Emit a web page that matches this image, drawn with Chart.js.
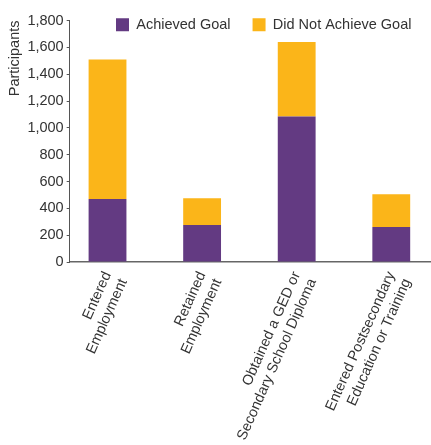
<!DOCTYPE html>
<html>
<head>
<meta charset="utf-8">
<script src="https://cdn.jsdelivr.net/npm/chart.js@4.4.1/dist/chart.umd.min.js"></script>
<style>
html, body { margin: 0; padding: 0; background: #fff; }
#wrap { width: 431px; height: 445px; }
</style>
</head>
<body>
<div id="wrap"><canvas id="chart"></canvas></div>
<script>
// data
const categories = [
    ['Entered', 'Employment'],
    ['Retained', 'Employment'],
    ['Obtained a GED or', 'Secondary School Diploma'],
    ['Entered Postsecondary', 'Education or Training']
]
const achieved = [470, 275, 1085, 260]
const notAchieved = [1040, 200, 555, 245]
const yTickValues = [0, 200, 400, 600, 800, 1000, 1200, 1400, 1600, 1800]
const seriesNames = ['Achieved Goal', 'Did Not Achieve Goal']

const purple = '#633A82'
const gold = '#FBB519'

Chart.defaults.font.family = '"Liberation Sans", Arial, sans-serif'
Chart.defaults.font.size = 14.5
Chart.defaults.color = '#333'

// legend sits inside the plot area in the original, move it there after layout
const legendPlace = {
    id: 'legendPlace',
    afterLayout(chart) {
        const l = chart.legend
        const pad = l.options.labels.padding
        l.left = 116 - pad
        l.right = 560
        l.top = 17.5 - pad
        l.bottom = 40
    }
}

const toPoints = vals => vals.map((v, i) => ({x: i, y: v}))

new Chart(document.getElementById('chart'), {
    type: 'bar',
    data: {
        datasets: [
            {label: seriesNames[0], data: toPoints(achieved), backgroundColor: purple, stack: 's'},
            {label: seriesNames[1], data: toPoints(notAchieved), backgroundColor: gold, stack: 's'}
        ]
    },
    options: {
        responsive: true,
        maintainAspectRatio: false,
        animation: false,
        categoryPercentage: 0.4,
        barPercentage: 1,
        layout: {padding: {left: 0, top: 19.5, right: 0, bottom: 0}},
        plugins: {
            tooltip: {enabled: false},
            legend: {
                position: 'top',
                align: 'start',
                maxHeight: 1,
                labels: {boxWidth: 13, boxHeight: 13, padding: 22, color: '#333'}
            }
        },
        scales: {
            x: {
                type: 'linear',
                offset: false,
                min: -0.4,
                max: 3.42,
                grid: {display: false, drawTicks: false},
                border: {display: true, color: '#666', width: 1.5},
                ticks: {
                    stepSize: 1,
                    includeBounds: false,
                    autoSkip: false,
                    minRotation: 66,
                    maxRotation: 66,
                    padding: 7,
                    callback: v => categories[v] || ''
                },
                afterFit: s => { s.height = 183; s.paddingRight = 0 }
            },
            y: {
                stacked: true,
                min: 0,
                max: 1800,
                afterBuildTicks: s => { s.ticks = yTickValues.map(v => ({value: v})) },
                grid: {drawOnChartArea: false, tickLength: 3, color: '#555'},
                border: {color: '#555', width: 1},
                ticks: {padding: 3, callback: v => v.toLocaleString('en-US')},
                title: {display: true, text: 'Participants', align: 'end', padding: {top: 6, bottom: 1}}
            }
        }
    },
    plugins: [legendPlace]
})
</script>
</body>
</html>
